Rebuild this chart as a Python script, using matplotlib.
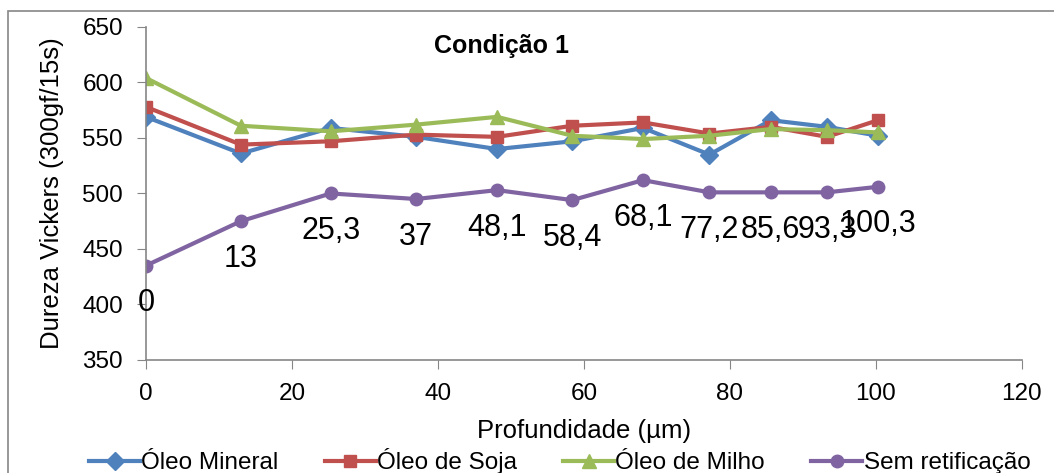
import numpy as np
import matplotlib.pyplot as plt
from matplotlib.patches import Rectangle

plt.rcParams['font.family'] = ['Liberation Sans', 'DejaVu Sans']

# Depth positions (µm)
depth = [0, 13, 25.3, 37, 48.1, 58.4, 68.1, 77.2, 85.6, 93.3, 100.3]
depth_labels = ['0', '13', '25,3', '37', '48,1', '58,4', '68,1', '77,2', '85,6', '93,3', '100,3']

# Vickers hardness per condition
oleo_mineral = [569, 536, 559, 551, 540, 547, 559, 535, 566, 560, 552]
oleo_soja = [578, 544, 547, 553, 551, 561, 564, 554, 560, 551, 566]
oleo_milho = [604, 561, 556, 562, 569, 552, 549, 552, 558, 557, 555]
sem_retificacao = [435, 475, 500, 495, 503, 494, 512, 501, 501, 501, 506]

series = [
    ('Óleo Mineral', oleo_mineral, '#4F81BD', 'D', 9),
    ('Óleo de Soja', oleo_soja, '#C0504D', 's', 9),
    ('Óleo de Milho', oleo_milho, '#9BBB59', '^', 10),
    ('Sem retificação', sem_retificacao, '#8064A2', 'o', 9),
]

fig = plt.figure(figsize=(10.54, 4.73), dpi=100)
ax = fig.add_axes([0.1385, 0.239, 0.831, 0.704])

for name, vals, color, marker, ms in series:
    ax.plot(depth, vals, color=color, marker=marker, markersize=ms,
            linewidth=3, label=name)

# Data labels below the "Sem retificação" points
for xv, yv, lab in zip(depth, sem_retificacao, depth_labels):
    ax.annotate(lab, (xv, yv), xytext=(0, -27), textcoords='offset points',
                ha='center', va='center', fontsize=22)

ax.set_xlim(0, 120)
ax.set_ylim(350, 650)
ax.set_xticks(np.arange(0, 121, 20))
ax.set_yticks(np.arange(350, 651, 50))
ax.tick_params(labelsize=17.5, color='#868686', length=6.5, pad=10)

for side in ['top', 'right']:
    ax.spines[side].set_visible(False)
for side in ['left', 'bottom']:
    ax.spines[side].set_color('#868686')
    ax.spines[side].set_linewidth(1.2)

ax.set_xlabel('Profundidade (µm)', fontsize=18.5, labelpad=10)
ax.set_ylabel('Dureza Vickers (300gf/15s)', fontsize=18.5, labelpad=13)
ax.text(0.406, 0.943, 'Condição 1', transform=ax.transAxes,
        ha='center', va='center', fontsize=18, fontweight='bold')

ax.legend(loc='center', bbox_to_anchor=(0.531, 0.025), bbox_transform=fig.transFigure,
          ncol=4, frameon=False, fontsize=17.5, handlelength=2.1, columnspacing=1.9,
          handletextpad=0.05, borderpad=0)

# Outer chart border
fig.patches.append(Rectangle((7.5 / 1054, -0.1), 1.2, 1 - 11.5 / 473 + 0.1,
                             transform=fig.transFigure, fill=False,
                             edgecolor='#868686', linewidth=1.2))

fig.savefig('out.png', dpi=100)
